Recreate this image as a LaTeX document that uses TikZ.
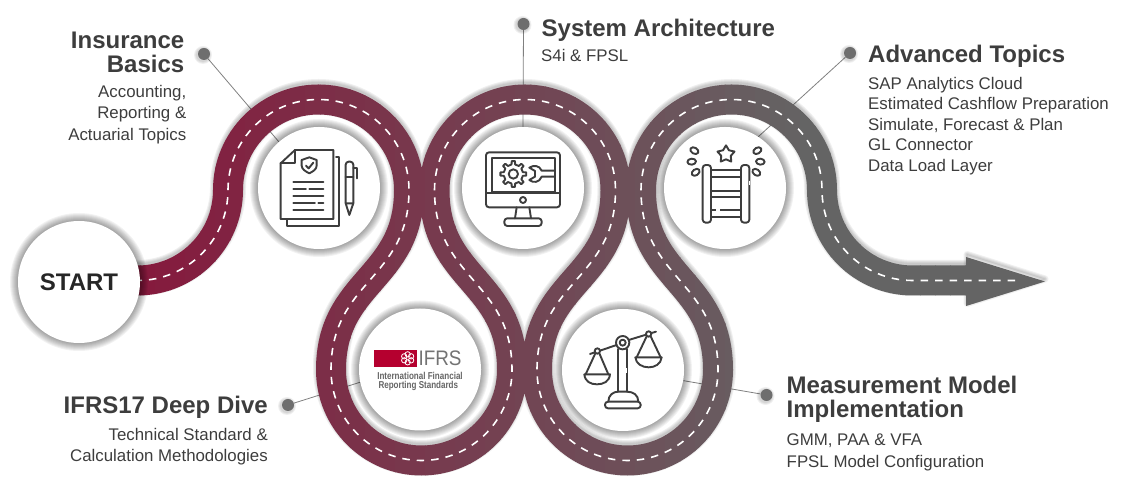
\documentclass[tikz,border=0pt]{standalone}
\usepackage{fontspec}
\setmainfont{Liberation Sans}

\definecolor{roadred}{HTML}{851A3D}
\definecolor{roadgray}{HTML}{646464}
\definecolor{inkgray}{HTML}{3D3D3D}
\definecolor{spotgray}{HTML}{6E6E6E}
\definecolor{ifrsred}{HTML}{B5002F}

\pgfdeclarelayer{back}
\pgfdeclarelayer{mid}
\pgfsetlayers{back,mid,main}

\tikzset{
  hub/.style={circle,fill=white,minimum size=122pt,inner sep=0pt},
  spot/.style={circle,fill=spotgray,minimum size=12pt,inner sep=0pt},
  leader/.style={draw=gray,line width=0.8pt},
  headtext/.style={inner sep=0pt,text=inkgray,font=\fontsize{24}{24}\selectfont\bfseries},
  subtext/.style={inner sep=0pt,text=inkgray,font=\fontsize{16.85}{21.5}\selectfont},
  listtext/.style={inner sep=0pt,text=inkgray,font=\fontsize{16.85}{20.5}\selectfont},
  icon/.style={draw=inkgray,line width=1.9pt,line join=round,line cap=round},
  zoomed/.style={x=0.33333pt,y=-0.33333pt}
}

% centre line of the road
\newcommand{\roadpath}{(120,208.5) -- (137.5,208.5)
  arc[start angle=-90,end angle=0,radius=90.5]
  arc[start angle=180,end angle=0,radius=90.5]
  .. controls (409,209) and (331,209) .. (331,119)
  arc[start angle=180,end angle=360,radius=90.5]
  .. controls (512,209) and (434.5,209) .. (434.5,299)
  arc[start angle=180,end angle=0,radius=90.5]
  .. controls (615.5,209) and (537,209) .. (537,119)
  arc[start angle=180,end angle=360,radius=90.5]
  .. controls (718,209) and (641,209) .. (641,299)
  arc[start angle=180,end angle=0,radius=90.5]
  arc[start angle=180,end angle=270,radius=90.5]}

\begin{document}
\begin{tikzpicture}[x=1pt,y=1pt]
\useasboundingbox (0,0) rectangle (1121,489);

% white circles and spots
\node[hub] (start) at (79,207) {};
\node[hub] (basics) at (319,301) {};
\node[hub] (system) at (523,301) {};
\node[hub] (topics) at (725,301) {};
\node[hub] (ifrs) at (420,119.5) {};
\node[hub] (model) at (623,119) {};

\node[spot] (basicsspot) at (204,435) {};
\node[spot] (systemspot) at (523.5,465) {};
\node[spot] (topicsspot) at (850,436) {};
\node[spot] (ifrsspot) at (288,84) {};
\node[spot] (modelspot) at (766.5,94) {};

\begin{pgfonlayer}{back}
\draw[leader] (basicsspot) -- (basics.131.7);
\draw[leader] (systemspot) -- (system.90);
\draw[leader] (topicsspot) -- (topics.57);
\draw[leader] (ifrsspot) -- (ifrs.192.7);
\draw[leader] (modelspot) -- (model.-10);
\end{pgfonlayer}

\begin{pgfonlayer}{mid}
% soft shadow of the road
\begin{scope}[yshift=2.5pt]
\foreach \w in {30,32,34,36}{
  \draw[black,opacity=0.06,line width=\w pt] \roadpath -- (967,208.5);
  \draw[black,opacity=0.06,line width=\w pt-29pt,line join=round] (967,232) -- (1045,207.5) -- (967,183) -- cycle;
}
\end{scope}
\fill[roadgray] (966,232) -- (1045,207.5) -- (966,183) -- cycle;
% road, cut in strips for the colour run
\foreach \s in {0,...,58}{
  \pgfmathsetmacro{\xa}{110+15*\s}
  \pgfmathsetmacro{\pc}{max(0,min(100,(\xa-140)/6.6))}
  \colorlet{roadstrip}{roadgray!\pc!roadred}
  \begin{scope}
    \clip (\xa,0) rectangle (\xa+15.6,489);
    \draw[roadstrip,line width=30pt] \roadpath -- (967,208.5);
  \end{scope}
}
\draw[white,line width=1.6pt,dash pattern=on 7.5pt off 7pt] \roadpath -- (1018,208.5);
% halos of the circles
\foreach \n in {start,basics,system,topics,ifrs,model}{
  \foreach \r in {62,63,...,69}{
    \fill[black,opacity=0.05] (\n) circle[radius=\r];
  }
}
\foreach \n in {basicsspot,systemspot,topicsspot,ifrsspot,modelspot}{
  \foreach \r in {7,8,9}{
    \fill[black,opacity=0.06] ([shift={(-1,-1)}]\n.center) circle[radius=\r];
  }
}
\end{pgfonlayer}

% texts
\node[font=\fontsize{24}{24}\selectfont\bfseries,text=black!85,inner sep=0pt] (starttext) at (start) {START};

\node[headtext,align=right,anchor=north east] (basicstitle) at (184.5,457) {Insurance\\Basics};
\node[subtext,align=right,anchor=north east] (basicsbody) at (186.5,404) {Accounting,\\Reporting \&\\Actuarial Topics};

\node[headtext,anchor=base west] (systemtitle) at (541.5,452.3) {System Architecture};
\node[subtext,anchor=base west] (systembody) at (541,427) {S4i \& FPSL};

\node[headtext,anchor=base west] (topicstitle) at (868,426) {Advanced Topics};
\node[listtext,align=left,anchor=north west] (topicsbody) at (868,412) {SAP Analytics Cloud\\Estimated Cashflow Preparation\\Simulate, Forecast \& Plan\\GL Connector\\Data Load Layer};

\node[headtext,anchor=base east] (ifrstitle) at (268,75) {IFRS17 Deep Dive};
\node[subtext,align=right,anchor=north east] (ifrsbody) at (268,61) {Technical Standard \&\\Calculation Methodologies};

\node[headtext,align=left,anchor=north west] (modeltitle) at (786.5,113.3) {Measurement Model\\Implementation};
\node[subtext,align=left,anchor=north west] (modelbody) at (786.5,55) {GMM, PAA \& VFA\\FPSL Model Configuration};

% document and pen
\begin{scope}[zoomed,shift={(0pt,489pt)}]
\draw[icon] (885,450) -- (1000,450) -- (1000,657) -- (842,657) -- (842,490) -- cycle;
\draw[icon] (885,450) -- (885,490) -- (842,490);
\draw[icon] (1008,470) -- (1018,470) -- (1018,677) -- (860,677) -- (860,660);
\draw[icon] (928,472) -- (905,480) -- (905,497) .. controls (905,508) and (918,515) .. (928,520) .. controls (938,515) and (950,508) .. (950,497) -- (950,480) -- cycle;
\draw[icon] (918,497) -- (926,505) -- (940,488);
\draw[icon] (880,547) -- (970,547);
\draw[icon] (880,567) -- (918,567) (928,567) -- (970,567);
\draw[icon] (880,587) -- (970,587);
\draw[icon] (880,608) -- (945,608) (955,608) -- (970,608);
\draw[icon] (880,629) -- (970,629);
\draw[icon,rounded corners=3pt] (1037,610) -- (1037,485) -- (1060,485) -- (1060,610);
\draw[icon] (1037,610) -- (1048,645) -- (1060,610) -- cycle;
\draw[icon] (1037,530) -- (1060,530);
\draw[icon] (1060,503) -- (1072,503) -- (1072,535);
\end{scope}

% monitor with gear and wrench
\begin{scope}[zoomed,shift={(400pt,489pt)}]
\draw[icon,rounded corners=3pt] (258,457) rectangle (480,622);
\draw[icon] (275,473) rectangle (465,575);
\draw[icon] (258,578) -- (480,578);
\draw[icon] (369,600) circle[radius=9];
\draw[icon] (350,622) -- (345,655) (388,622) -- (393,655);
\draw[icon,rounded corners=3pt] (313,655) rectangle (425,678);
\begin{scope}[shift={(340,522)}]
\draw[icon] (-11:29) foreach \a in {0,45,...,315}{ -- (\a-11:29) -- (\a-7:39) -- (\a+7:39) -- (\a+11:29)} -- cycle;
\draw[icon] (0,0) circle[radius=14];
\end{scope}
\draw[icon] (462,512) -- (425,512) .. controls (418,495) and (400,495) .. (388,503) -- (405,513) -- (405,530) -- (388,540) .. controls (400,550) and (418,548) .. (425,530) -- (462,530);
\end{scope}

% ladder with star
\begin{scope}[zoomed,shift={(640pt,429pt)}]
\draw[icon,rounded corners=3pt] (188,315) rectangle (213,488);
\draw[icon,rounded corners=3pt] (303,315) rectangle (328,488);
\foreach \y in {330,352,392,412,450,470}{
  \draw[icon] (213,\y) -- (303,\y);
}
\draw[white,line width=1.5pt] (228,450) -- (240,450) (328,362) -- (328,375);
\begin{scope}[shift={(258,283)}]
\draw[icon] (-90:27) -- (-54:15) -- (-18:27) -- (18:15) -- (54:27) -- (90:15) -- (126:27) -- (162:15) -- (198:27) -- (234:15) -- cycle;
\end{scope}
\draw[icon,rotate around={-30:(163,272)}] (163,272) circle[x radius=13,y radius=9];
\draw[icon,rotate around={5:(155,305)}] (155,305) circle[x radius=13,y radius=9];
\draw[icon,rotate around={35:(167,337)}] (167,337) circle[x radius=13,y radius=9];
\draw[icon,rotate around={30:(352,272)}] (352,272) circle[x radius=13,y radius=9];
\draw[icon,rotate around={-5:(361,305)}] (361,305) circle[x radius=13,y radius=9];
\draw[icon,rotate around={-35:(349,337)}] (349,337) circle[x radius=13,y radius=9];
\end{scope}

% IFRS logo and scales
\begin{scope}[zoomed,shift={(300pt,209pt)}]
\fill[ifrsred] (222,210) rectangle (350,261);
\foreach \a in {30,90,...,330}{
  \draw[white,line width=0.8pt] (323,235) ++(\a:12) circle[radius=8];
}
\node[font=\fontsize{21}{21}\selectfont,text=black!55,inner sep=0pt,anchor=west,xscale=0.9] (ifrsword) at (355,236) {IFRS};
\node[font=\fontsize{10}{10}\selectfont\bfseries,text=black!60,inner sep=0pt,xscale=0.805] (ifrsline) at (360,287) {International Financial};
\node[font=\fontsize{10}{10}\selectfont\bfseries,text=black!60,inner sep=0pt,xscale=0.805] (ifrsrep) at (355,317) {Reporting Standards};

\draw[icon] (870,222) -- (950,195) (986,180) -- (1068,155);
\draw[icon] (968,188) circle[radius=20];
\draw[icon] (968,188) circle[radius=9];
\draw[icon] (955,207) -- (955,335) (980,207) -- (980,335);
\draw[white,line width=1.5pt] (980,265) -- (980,280);
\draw[icon] (925,365) .. controls (925,345) and (940,335) .. (955,335) -- (980,335) .. controls (1000,335) and (1015,345) .. (1015,365);
\draw[icon,rounded corners=3pt] (915,365) rectangle (1022,385);
\fill[white] (892,213) circle[radius=8];
\draw[icon] (892,213) circle[radius=8];
\draw[icon] (886,220) -- (857,283) (898,220) -- (925,283);
\draw[icon] (853,283) -- (930,283) .. controls (928,305) and (910,313) .. (891,313) .. controls (872,313) and (855,305) .. (853,283);
\fill[white] (1046,162) circle[radius=8];
\draw[icon] (1046,162) circle[radius=8];
\draw[icon] (1040,169) -- (1010,232) (1052,169) -- (1082,232);
\draw[icon] (1006,232) -- (1085,232) .. controls (1083,252) and (1065,262) .. (1046,262) .. controls (1027,262) and (1008,252) .. (1006,232);
\end{scope}

\end{tikzpicture}
\end{document}
